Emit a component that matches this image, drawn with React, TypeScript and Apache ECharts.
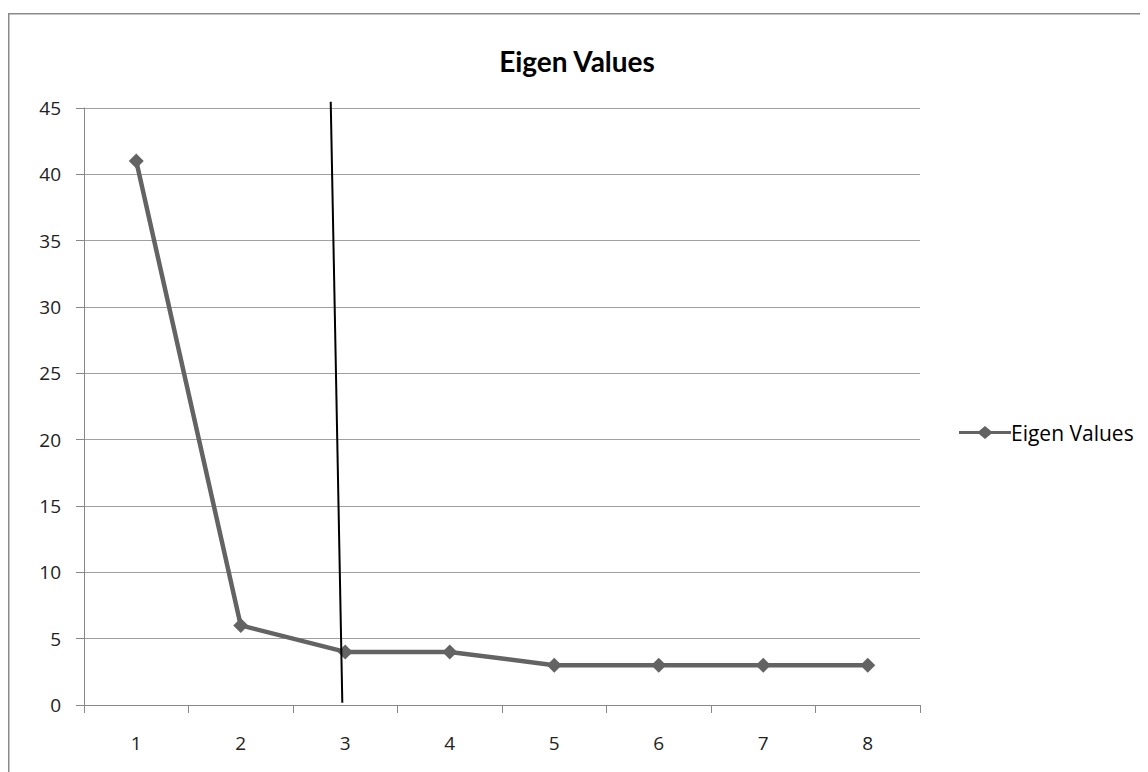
import React, { useEffect, useRef } from "react";
import * as echarts from "echarts";

const categories = ["1", "2", "3", "4", "5", "6", "7", "8"];
const eigenValues = [41, 6, 4, 4, 3, 3, 3, 3];
// cut-off line drawn on a hidden value x-axis (0.5 .. 8.5) in data units
const cutLineX = [2.861, 2.972];
const cutLineY = [45.47, 0.17];

const TITLE_FONT = "Lato, 'Open Sans', 'DejaVu Sans', sans-serif";
const FONT = "'Open Sans', Lato, 'DejaVu Sans', sans-serif";

export default function App() {
  const ref = useRef<HTMLDivElement>(null);
  useEffect(() => {
    if (!ref.current) return;
    const chart = echarts.init(ref.current, undefined, { renderer: "svg" });
    chart.setOption({
      animation: false,
      backgroundColor: "#ffffff",
      title: {
        text: "Eigen Values",
        left: 564,
        top: 34,
        textAlign: "center",
        textStyle: { fontFamily: TITLE_FONT, fontSize: 28, fontWeight: "bold", color: "#000" },
      },
      graphic: [
        {
          type: "rect",
          shape: { x: 0.75, y: 5.75, width: 1200, height: 900 },
          style: { fill: "none", stroke: "#8a8a8a", lineWidth: 1.5 },
          silent: true,
        },
      ],
      legend: {
        left: 946,
        top: 409,
        data: [
          {
            name: "Eigen Values",
            icon: "path://M0,5h20l6,-5l6,5h20v3h-20l-6,5l-6,-5h-20z",
          },
        ],
        itemWidth: 52,
        itemHeight: 13,
        itemGap: 4,
        textStyle: { fontFamily: FONT, fontSize: 21, color: "#000", padding: [0, 0, 0, -5] },
      },
      grid: { left: 76, right: 228, top: 100, bottom: 67, containLabel: false },
      xAxis: [
        {
          type: "category",
          data: categories,
          boundaryGap: true,
          axisLine: { lineStyle: { color: "#888", width: 1 } },
          axisTick: { show: true, interval: 0, length: 8, lineStyle: { color: "#888" } },
          axisLabel: { fontFamily: FONT, fontSize: 19, color: "#222", margin: 28 },
          splitLine: { show: false },
        },
        {
          type: "value",
          min: 0.5,
          max: 8.5,
          show: false,
          position: "bottom",
        },
      ],
      yAxis: {
        type: "value",
        min: 0,
        max: 45,
        interval: 5,
        axisLine: { show: true, lineStyle: { color: "#888", width: 1 } },
        axisTick: { show: true, length: 8, lineStyle: { color: "#888" } },
        axisLabel: { fontFamily: FONT, fontSize: 19, color: "#222", margin: 23 },
        splitLine: { show: true, lineStyle: { color: "#a0a0a0", width: 1 } },
      },
      series: [
        {
          name: "Eigen Values",
          type: "line",
          data: eigenValues,
          xAxisIndex: 0,
          symbol: "diamond",
          symbolSize: 15,
          lineStyle: { color: "#636363", width: 4.5 },
          itemStyle: { color: "#636363" },
          z: 3,
        },
        {
          name: "cut",
          type: "line",
          xAxisIndex: 1,
          data: [
            [cutLineX[0], cutLineY[0]],
            [cutLineX[1], cutLineY[1]],
          ],
          symbol: "none",
          clip: false,
          lineStyle: { color: "#000", width: 2 },
          z: 4,
        },
      ],
    });
    return () => chart.dispose();
  }, []);
  return <div ref={ref} style={{ width: 1140, height: 764 }} />;
}
